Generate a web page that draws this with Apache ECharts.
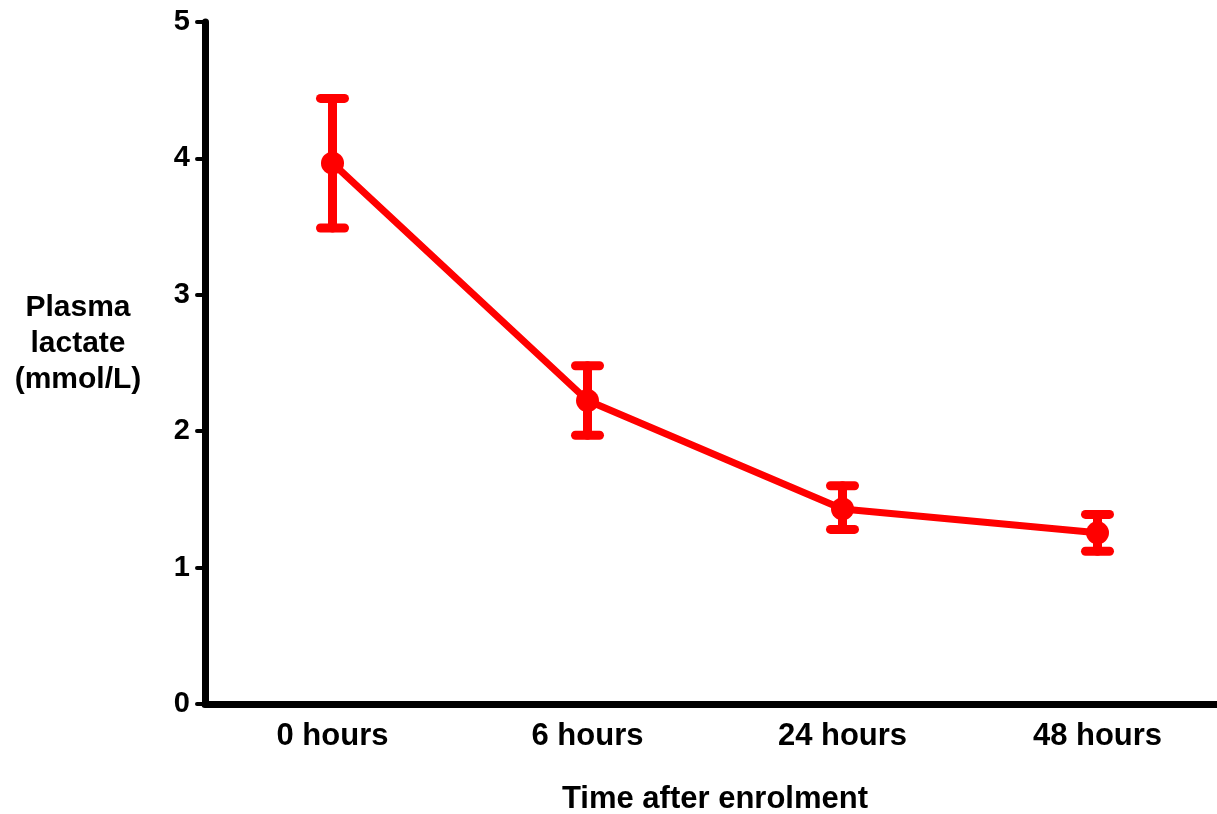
<!DOCTYPE html>
<html><head><meta charset="utf-8">
<script src="https://cdn.jsdelivr.net/npm/echarts@6/dist/echarts.min.js"></script>
<style>html,body{margin:0;padding:0;background:#fff}#c{width:1217px;height:814px}</style>
</head><body><div id="c"></div>
<script>
var categories = ['0 hours', '6 hours', '24 hours', '48 hours'];
var means = [3.965, 2.225, 1.43, 1.255];
var upper = [4.44, 2.48, 1.60, 1.39];
var lower = [3.49, 1.97, 1.28, 1.12];
var yTicks = [0, 1, 2, 3, 4, 5];

var chart = echarts.init(document.getElementById('c'));
var FONT = '"Liberation Sans", Arial, sans-serif';
var errData = categories.map(function (c, i) { return [i, lower[i], upper[i]]; });
chart.setOption({
  animation: false,
  backgroundColor: '#fff',
  grid: { left: 205, right: -8, top: 22, bottom: 110, containLabel: false, outerBoundsMode: 'none' },
  xAxis: {
    type: 'category', data: categories, boundaryGap: true,
    axisLine: { lineStyle: { color: '#000', width: 7 } },
    axisTick: { alignWithLabel: true, length: 11, lineStyle: { color: '#000', width: 4, cap: 'round' } },
    axisLabel: { color: '#000', fontFamily: FONT, fontWeight: 'bold', fontSize: 31, margin: 17 },
    name: 'Time after enrolment', nameLocation: 'middle', nameGap: 80,
    nameTextStyle: { color: '#000', fontFamily: FONT, fontWeight: 'bold', fontSize: 31 }
  },
  yAxis: {
    type: 'value', min: 0, max: 5, interval: 1,
    axisLine: { show: true, lineStyle: { color: '#000', width: 7 } },
    axisTick: { show: true, length: 8, lineStyle: { color: '#000', width: 4, cap: 'round' } },
    splitLine: { show: false },
    axisLabel: { color: '#000', fontFamily: FONT, fontWeight: 'bold', fontSize: 29, margin: 15,
      formatter: function (v) { return yTicks.indexOf(v) >= 0 ? String(v) : ''; } }
  },
  graphic: [{
    type: 'text', x: 78, y: 344,
    style: { text: 'Plasma\nlactate\n(mmol/L)', fill: '#000', font: 'bold 30px ' + FONT,
      align: 'center', verticalAlign: 'middle', lineHeight: 36 }
  }],
  series: [{
    type: 'line', data: means, symbol: 'circle', symbolSize: 23,
    lineStyle: { color: '#ff0000', width: 7 }, itemStyle: { color: '#ff0000' }, z: 3
  }, {
    type: 'custom', data: errData, z: 2,
    renderItem: function (params, api) {
      var x = api.value(0);
      var lo = api.coord([x, api.value(1)]);
      var hi = api.coord([x, api.value(2)]);
      var hw = 12;
      var st = { stroke: '#ff0000', lineWidth: 9, lineCap: 'round' };
      return { type: 'group', children: [
        { type: 'line', shape: { x1: lo[0], y1: lo[1], x2: hi[0], y2: hi[1] }, style: st },
        { type: 'line', shape: { x1: lo[0] - hw, y1: lo[1], x2: lo[0] + hw, y2: lo[1] }, style: st },
        { type: 'line', shape: { x1: hi[0] - hw, y1: hi[1], x2: hi[0] + hw, y2: hi[1] }, style: st }
      ] };
    }
  }]
});
</script></body></html>
